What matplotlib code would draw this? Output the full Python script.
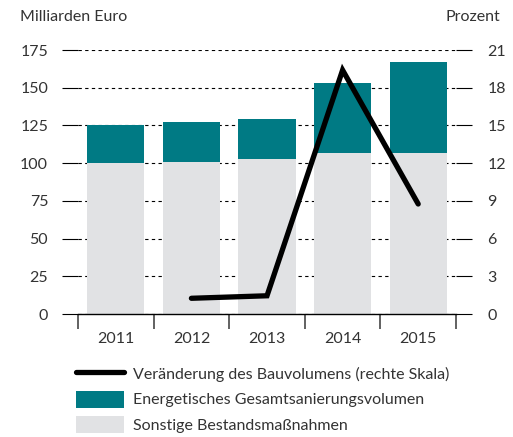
import numpy as np
import matplotlib
matplotlib.use('Agg')
import matplotlib.pyplot as plt
from matplotlib.lines import Line2D
from matplotlib.patches import Patch

years = ['2011', '2012', '2013', '2014', '2015']
sonstige = [100, 101, 103, 107, 107]  # Mrd. Euro
gesamt = [125, 127, 129, 153, 167]  # total bar height
energetisch = [g - s for g, s in zip(gesamt, sonstige)]
line_years = ['2012', '2013', '2014', '2015']
veraenderung = [1.25, 1.45, 19.4, 8.75]  # Prozent, right scale

left_ticks = [0, 25, 50, 75, 100, 125, 150, 175]
right_ticks = [0, 3, 6, 9, 12, 15, 18, 21]

teal = '#007A84'
grey = '#E1E2E4'
txt = '#333333'

plt.rcParams['font.family'] = ['Lato', 'DejaVu Sans']
plt.rcParams['font.size'] = 11.5

fig = plt.figure(figsize=(5.13, 4.37), dpi=100)
ax = fig.add_axes([78/513, 123/437, 378/513, 264/437])

x = np.arange(len(years))
ax.bar(x, sonstige, width=0.757, color=grey, zorder=2)
ax.bar(x, energetisch, bottom=sonstige, width=0.757, color=teal, zorder=2)

ax.set_xlim(-0.5, 4.5)
ax.set_ylim(0, 175)
ax.set_yticks(left_ticks)
ax.grid(axis='y', color='black', linestyle=(0, (3, 3)), linewidth=0.8, zorder=0)
ax.set_axisbelow(True)

# x ticks between categories, labels centered
ax.set_xticks(np.arange(-0.5, 5, 1))
ax.set_xticklabels([])
ax.set_xticks(x, minor=True)
ax.set_xticklabels(years, minor=True)
ax.tick_params(axis='x', which='major', direction='out', length=11, width=1.3, color='#555555')
ax.tick_params(axis='x', which='minor', length=0, pad=13, labelcolor=txt)
ax.tick_params(axis='y', direction='out', length=11.5, width=0.8, color='black', pad=10, labelcolor=txt)

for s in ['top', 'left', 'right']:
    ax.spines[s].set_visible(False)
ax.spines['bottom'].set_linewidth(1)

ax2 = ax.twinx()
ax2.set_ylim(0, 21)
ax2.set_yticks(right_ticks)
ax2.tick_params(axis='y', direction='out', length=11.5, width=0.8, color='black', pad=11, labelcolor=txt)
for s in ['top', 'left', 'right', 'bottom']:
    ax2.spines[s].set_visible(False)
lx = [years.index(y) for y in line_years]
ax2.plot(lx, veraenderung, color='black', linewidth=3.8, solid_capstyle='round',
         solid_joinstyle='miter', zorder=5)

fig.text(20/513, 1 - 17/437, 'Milliarden Euro', ha='left', va='center', color=txt)
fig.text(500/513, 1 - 17/437, 'Prozent', ha='right', va='center', color=txt)

handles = [Line2D([], [], color='black', linewidth=3.8, solid_capstyle='round'),
           Patch(facecolor=teal), Patch(facecolor=grey)]
labels = ['Veränderung des Bauvolumens (rechte Skala)',
          'Energetisches Gesamtsanierungsvolumen',
          'Sonstige Bestandsmaßnahmen']
leg = fig.legend(handles, labels, loc='upper left', bbox_to_anchor=(76/513, 1 - 365/437),
                 frameon=False, handlelength=3.0, handleheight=1.25, handletextpad=0.55,
                 labelspacing=0.55, borderaxespad=0, borderpad=0, labelcolor=txt)

fig.savefig('out.png', dpi=100)
